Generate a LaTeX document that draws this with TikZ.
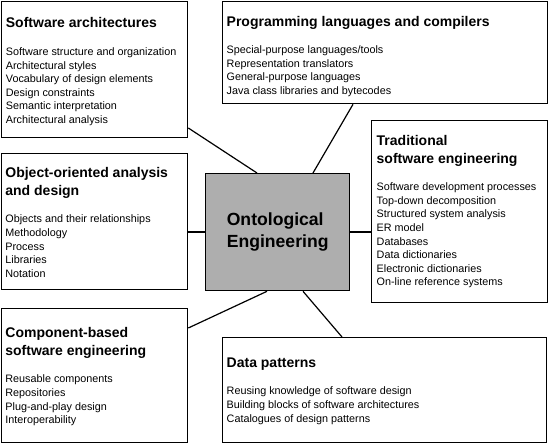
\documentclass[tikz,border=0pt]{standalone}
\usepackage{fontspec}
\setmainfont{Liberation Sans}
\definecolor{centergray}{RGB}{174,174,174}
\newcommand\boxtitle{\bfseries\fontsize{14}{18}\selectfont}
\newcommand\boxitem{\fontsize{10.8}{13.6}\selectfont\lineskiplimit=-20pt\relax}
\newcommand\centerfont{\bfseries\fontsize{17.6}{22.5}\selectfont\lineskiplimit=-20pt\relax}
\tikzset{
  box/.style={draw=black, line width=1.3pt, fill=white, rectangle, inner sep=0pt, anchor=north west},
  centerbox/.style={draw=black, line width=1.3pt, fill=centergray, rectangle, inner sep=0pt, anchor=north west, align=left, font=\centerfont},
  txt/.style={anchor=north west, inner sep=0pt, align=left, font=\boxitem},
  link/.style={draw=black, line width=1.2pt}
}
\begin{document}
\begin{tikzpicture}[x=1pt,y=-1pt]
\useasboundingbox (0,0) rectangle (548,443);
% boxes
\node[box, minimum width=186.3pt, minimum height=136.3pt] (b1) at (0.7,0.7) {};
\node[box, minimum width=325pt, minimum height=102.3pt] (b2) at (222,0.7) {};
\node[box, minimum width=176pt, minimum height=182pt] (b3) at (371,120) {};
\node[box, minimum width=186.3pt, minimum height=136pt] (b4) at (0.7,153) {};
\node[box, minimum width=186.3pt, minimum height=134.3pt] (b5) at (0.7,308) {};
\node[box, minimum width=324pt, minimum height=105.3pt] (b6) at (222,337) {};
\node[centerbox, minimum width=144pt, minimum height=117pt] (c) at (205,173) {Ontological\\Engineering};
% connectors
\draw[link] ([yshift=-127.3pt]b1.north east) -- ([xshift=52pt]c.north west);
\draw[link] ([xshift=131pt]b2.south west) -- ([xshift=108pt]c.north west);
\draw[link] ([yshift=-79pt]b4.north east) -- ([yshift=-59pt]c.north west);
\draw[link] ([yshift=-59pt]c.north east) -- ([yshift=-112pt]b3.north west);
\draw[link] ([xshift=62pt]c.south west) -- ([yshift=-20pt]b5.north east);
\draw[link] ([xshift=98pt]c.south west) -- ([xshift=120pt]b6.north west);
% texts
\node[txt] (t1) at ([shift={(5pt,-16pt)}]b1.north west) {{\boxtitle\rule{0pt}{11pt}Software architectures}\\[14pt]
Software structure and organization\\
Architectural styles\\
Vocabulary of design elements\\
Design constraints\\
Semantic interpretation\\
Architectural analysis};
\node[txt] (t2) at ([shift={(4.5pt,-14.3pt)}]b2.north west) {{\boxtitle\rule{0pt}{11pt}Programming languages and compilers}\\[14pt]
Special-purpose languages/tools\\
Representation translators\\
General-purpose languages\\
Java class libraries and bytecodes};
\node[txt] (t3) at ([shift={(5.5pt,-14pt)}]b3.north west) {{\boxtitle\rule{0pt}{11pt}Traditional}\\[4.4pt]
{\boxtitle software engineering}\\[14pt]
Software development processes\\
Top-down decomposition\\
Structured system analysis\\
ER model\\
Databases\\
Data dictionaries\\
Electronic dictionaries\\
On-line reference systems};
\node[txt] (t4) at ([shift={(4.5pt,-13pt)}]b4.north west) {{\boxtitle\rule{0pt}{11pt}Object-oriented analysis}\\[4.4pt]
{\boxtitle and design}\\[14pt]
Objects and their relationships\\
Methodology\\
Process\\
Libraries\\
Notation};
\node[txt] (t5) at ([shift={(4.5pt,-18pt)}]b5.north west) {{\boxtitle\rule{0pt}{11pt}Component-based}\\[4.4pt]
{\boxtitle software engineering}\\[14pt]
Reusable components\\
Repositories\\
Plug-and-play design\\
Interoperability};
\node[txt] (t6) at ([shift={(4.5pt,-19pt)}]b6.north west) {{\boxtitle\rule{0pt}{11pt}Data patterns}\\[14pt]
Reusing knowledge of software design\\
Building blocks of software architectures\\
Catalogues of design patterns};
\end{tikzpicture}
\end{document}
